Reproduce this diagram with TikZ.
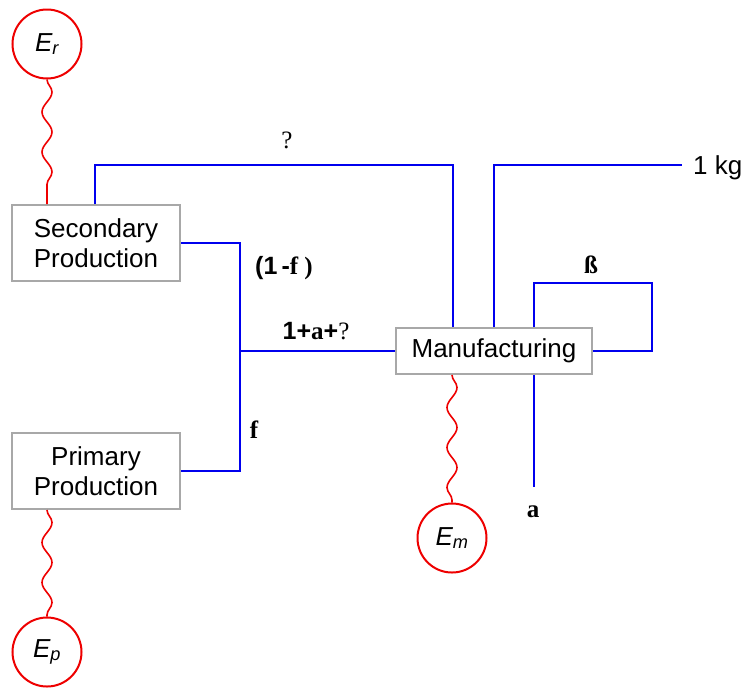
\documentclass[tikz,border=0pt]{standalone}
\usepackage{fontspec}
\setmainfont{Liberation Sans}
\setsansfont{Liberation Sans}
\newfontfamily\serifface{Liberation Serif}
\usetikzlibrary{decorations.pathmorphing}
\definecolor{boxgray}{HTML}{A8A8A8}
\definecolor{flowblue}{HTML}{0000EE}
\definecolor{emred}{HTML}{EE0000}
\begin{document}
\begin{tikzpicture}[x=1pt,y=-1pt,
  every node/.style={font=\fontsize{26}{30}\selectfont},
  procbox/.style={draw=boxgray, line width=2pt, fill=white, inner sep=0pt, align=center},
  emcircle/.style={circle, draw=emred, line width=2pt, fill=white, minimum size=69pt, inner sep=0pt},
  flow/.style={draw=flowblue, line width=2pt},
  wavy/.style={draw=emred, line width=1.6pt, decorate, decoration={snake, segment length=40pt, amplitude=5pt}},
  lbl/.style={inner sep=0pt, font=\fontsize{25}{29}\selectfont\serifface\bfseries}
]
\useasboundingbox (0,0) rectangle (743,689);

% process boxes
\node[procbox, minimum width=168pt, minimum height=76pt] (sec) at (96,243) {Secondary\\[0pt]Production};
\node[procbox, minimum width=168pt, minimum height=76pt] (pri) at (96,471) {Primary\\[0pt]Production};
\node[procbox, minimum width=196pt, minimum height=46pt] (man) at (494,351) {Manufacturing};

% energy circles
\node[emcircle] (Er) at (47,44) {\itshape E\textsubscript{r}};
\node[emcircle] (Ep) at (47,652) {\itshape E\textsubscript{p}};
\node[emcircle] (Em) at (452,538) {\itshape E\textsubscript{m}};

% wavy energy links
\draw[wavy] (Er.south) -- (Er.south |- sec.north);
\draw[wavy] (Ep.north |- pri.south) -- (Ep.north);
\draw[wavy] (Em.north |- man.south) -- (Em.north);

% coordinates
\coordinate (c1) at (95,165);
\coordinate (c2) at (453,165);
\coordinate (jx) at (240,351);
\coordinate (kg) at (682,165);
\coordinate (b1) at (534,283);
\coordinate (b2) at (652,283);
\coordinate (aend) at (534,487);

% flows
\draw[flow] (c1 |- sec.north) -- (c1) -- (c2) -- (c2 |- man.north);
\draw[flow] (sec.east) -| (jx) |- (pri.east);
\draw[flow] (jx) -- (man.west);
\draw[flow] (man.north) |- (kg);
\draw[flow] (b1 |- man.north) -- (b1) -- (b2) -- (b2 |- man.east) -- (man.east);
\draw[flow] (aend |- man.south) -- (aend);

% labels
\node[inner sep=0pt, anchor=west] (kglbl) at (693,168) {1 kg};
\node[lbl, font=\fontsize{25}{29}\selectfont\serifface] (qlbl) at (287,140) {?};
\node[lbl] (flbl) at (284,268) {{\sffamily\bfseries (1\,-}f )};
\node[lbl] (ff) at (254,430) {f};
\node[lbl] (sumlbl) at (316,331) {{\sffamily\bfseries 1+}a{\sffamily\bfseries +}{\mdseries ?}};
\node[lbl] (blbl) at (591,265) {ß};
\node[lbl] (albl) at (533,512) {a};
\end{tikzpicture}
\end{document}
